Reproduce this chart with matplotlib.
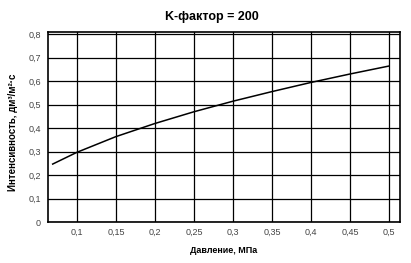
import matplotlib.pyplot as plt

# pressure, MPa and intensity, dm3/m2*s
pressure = [0.069, 0.1, 0.15, 0.2, 0.25, 0.3, 0.35, 0.4, 0.45, 0.5]
intensity = [0.247, 0.297, 0.364, 0.42, 0.47, 0.515, 0.556, 0.595, 0.631, 0.665]
x_ticks = [0.1, 0.15, 0.2, 0.25, 0.3, 0.35, 0.4, 0.45, 0.5]
x_labels = ['0,1', '0,15', '0,2', '0,25', '0,3', '0,35', '0,4', '0,45', '0,5']
y_ticks = [0, 0.1, 0.2, 0.3, 0.4, 0.5, 0.6, 0.7, 0.8]
y_labels = ['0', '0,1', '0,2', '0,3', '0,4', '0,5', '0,6', '0,7', '0,8']

plt.rcParams['font.family'] = ['Liberation Sans', 'DejaVu Sans']

fig = plt.figure(figsize=(4.11, 2.63), dpi=100)
ax = fig.add_axes([48 / 411, 1 - 222 / 263, 352 / 411, 190 / 263])

ax.plot(pressure, intensity, color='black', lw=1.1)
ax.set_xlim(0.063, 0.514)
ax.set_ylim(0, 0.81)
ax.set_xticks(x_ticks)
ax.set_xticklabels(x_labels)
ax.set_yticks(y_ticks)
ax.set_yticklabels(y_labels)
ax.tick_params(length=0, labelsize=6.5, labelcolor='#444444', pad=5)
ax.tick_params(axis='x', pad=4)
ax.grid(True, color='black', lw=0.9)
for s in ax.spines.values():
    s.set_linewidth(1.2)

ax.set_xlabel('Давление, МПа', fontsize=6.5, fontweight='bold', labelpad=7)
ax.set_ylabel('Интенсивность, дм³/м²·с', fontsize=7, fontweight='bold')
ax.yaxis.set_label_coords(-0.085, 0.47)
fig.text(0.515, 0.935, 'K-фактор = 200', ha='center', va='center', fontsize=9, fontweight='bold')

fig.savefig('out.png', dpi=100)
